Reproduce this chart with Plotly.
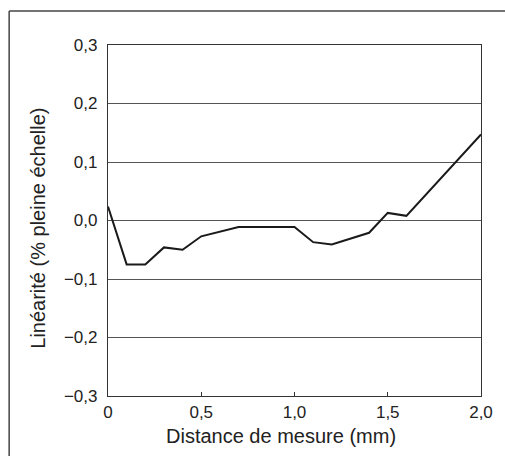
import plotly.graph_objects as go

distance_mm = [0.0, 0.1, 0.2, 0.3, 0.4, 0.5, 0.7, 1.0, 1.1, 1.2, 1.4, 1.5, 1.6, 2.0]
linearity = [0.024, -0.075, -0.075, -0.046, -0.05, -0.027, -0.011, -0.011,
             -0.037, -0.041, -0.021, 0.013, 0.008, 0.147]

x_ticks = [0, 0.5, 1.0, 1.5, 2.0]
x_labels = ["0", "0,5", "1,0", "1,5", "2,0"]
y_ticks = [-0.3, -0.2, -0.1, 0.0, 0.1, 0.2, 0.3]
y_labels = ["\u22120,3", "\u22120,2", "\u22120,1", "0,0", "0,1", "0,2", "0,3"]

FONT = "Liberation Sans, Arial, sans-serif"

fig = go.Figure(go.Scatter(
    x=distance_mm, y=linearity,
    mode="lines",
    line=dict(color="#1a1a1a", width=2),
    showlegend=False,
))

fig.update_xaxes(
    range=[0, 2.0],
    tickvals=x_ticks, ticktext=x_labels,
    ticks="inside", ticklen=4, tickcolor="#333",
    showgrid=False, zeroline=False,
    showline=True, linecolor="#333", linewidth=1.2, mirror=True,
    tickfont=dict(size=17, color="#222", family=FONT),
)
fig.update_yaxes(
    range=[-0.3, 0.3],
    tickvals=y_ticks, ticktext=y_labels,
    ticks="", ticklabelstandoff=6,
    showgrid=True, gridcolor="#555", gridwidth=1,
    zeroline=False,
    showline=True, linecolor="#333", linewidth=1.2, mirror=True,
    tickfont=dict(size=17, color="#222", family=FONT),
)

# outer frame: only the top and left edges fall inside the picture
frame = dict(color="#444", width=1.5)

fig.update_layout(
    width=505, height=456,
    margin=dict(l=108, r=20, t=45, b=60),
    plot_bgcolor="white", paper_bgcolor="white",
    font=dict(family=FONT, color="#222"),
    annotations=[
        dict(text="Distance de mesure (mm)", xref="paper", yref="paper",
             x=0.464, y=-0.114, xanchor="center", yanchor="middle",
             showarrow=False, font=dict(size=20, color="#222", family=FONT)),
        dict(text="Linéarité (% pleine échelle)", xref="paper", yref="paper",
             x=-0.188, y=0.479, xanchor="center", yanchor="middle", textangle=-90,
             showarrow=False, font=dict(size=20, color="#222", family=FONT)),
    ],
    shapes=[
        dict(type="line", xref="paper", yref="paper",
             x0=-0.265, x1=1.1, y0=1.097, y1=1.097, line=frame),
        dict(type="line", xref="paper", yref="paper",
             x0=-0.265, x1=-0.265, y0=-0.2, y1=1.097, line=frame),
    ],
)

# drop the browser's default body margin so the figure fills the window
fig.write_html(
    "out.html",
    config={"displayModeBar": False},
    post_script="document.body.style.margin='0';document.body.style.overflow='hidden';",
)
